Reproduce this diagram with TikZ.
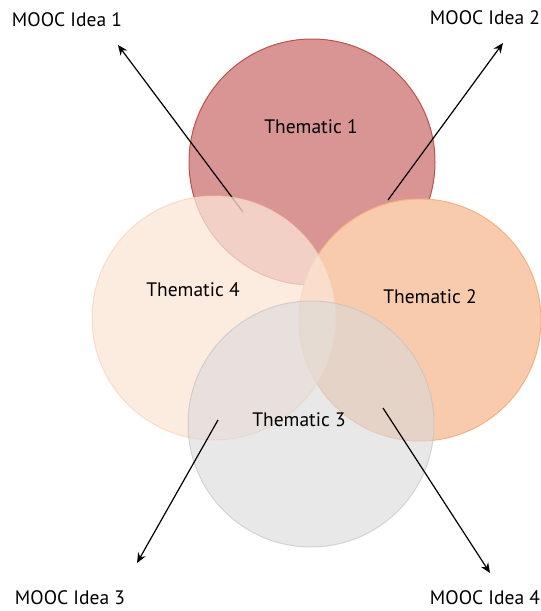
\documentclass[tikz,border=0pt]{standalone}
\usepackage{fontspec}
\setmainfont{PT Sans}
\usetikzlibrary{arrows.meta, positioning}
\tikzset{>={Stealth[length=10pt,width=8.5pt]}}
\definecolor{redfill}{HTML}{D99594}
\definecolor{redline}{HTML}{C0504D}
\definecolor{orangefill}{HTML}{F8CBAD}
\definecolor{orangeline}{HTML}{F4B183}
\definecolor{peachfill}{HTML}{FBE5D6}
\definecolor{peachline}{HTML}{F8CBAD}
\definecolor{greyfill}{HTML}{D9D9D9}
\definecolor{greyline}{HTML}{BFBFBF}
\tikzset{
  thematic/.style={circle, minimum size=246pt, inner sep=0pt, line width=1pt},
  idea/.style={font=\fontsize{19.5}{23}\selectfont},
  pointer/.style={->, line width=1.2pt}
}

\begin{document}
\begin{tikzpicture}[x=1pt, y=-1pt]
            \useasboundingbox (0,0) rectangle (541,611);
            \node[thematic, fill=redfill, draw=redline] (t1) at (312,162) {};
            \node[thematic, fill=orangefill, draw=orangeline, minimum size=242pt] (t2) at (420,320) {};
            \coordinate (s1) at (243,212);
            \coordinate (h1) at (118,45);
            \draw[pointer] (s1) -- (h1);
            \node[thematic, fill=peachfill, draw=peachline, fill opacity=.75, draw opacity=.6, minimum size=244pt] (t4) at (214,318) {};
            \node[thematic, fill=greyfill, draw=greyline, fill opacity=.6, draw opacity=.6] (t3) at (311,424) {};
            \node[idea] (th1) at (311,127) {Thematic 1};
            \node[idea] (th2) at (430,297) {Thematic 2};
            \node[idea] (th4) at (193,290) {Thematic 4};
            \node[idea] (th3) at (299,420) {Thematic 3};
            \coordinate (s2) at (388,200);
            \coordinate (h2) at (503,43);
            \coordinate (s3) at (218,420);
            \coordinate (h3) at (137,563);
            \coordinate (s4) at (383,408);
            \coordinate (h4) at (490,573);
            \draw[pointer] (s2) -- (h2);
            \draw[pointer] (s3) -- (h3);
            \draw[pointer] (s4) -- (h4);
            \node[idea] (m1) at (67,20) {MOOC Idea 1};
            \node[idea] (m2) at (485,18) {MOOC Idea 2};
            \node[idea] (m3) at (70,598) {MOOC Idea 3};
            \node[idea] (m4) at (485,598) {MOOC Idea 4};
\end{tikzpicture}
\end{document}
